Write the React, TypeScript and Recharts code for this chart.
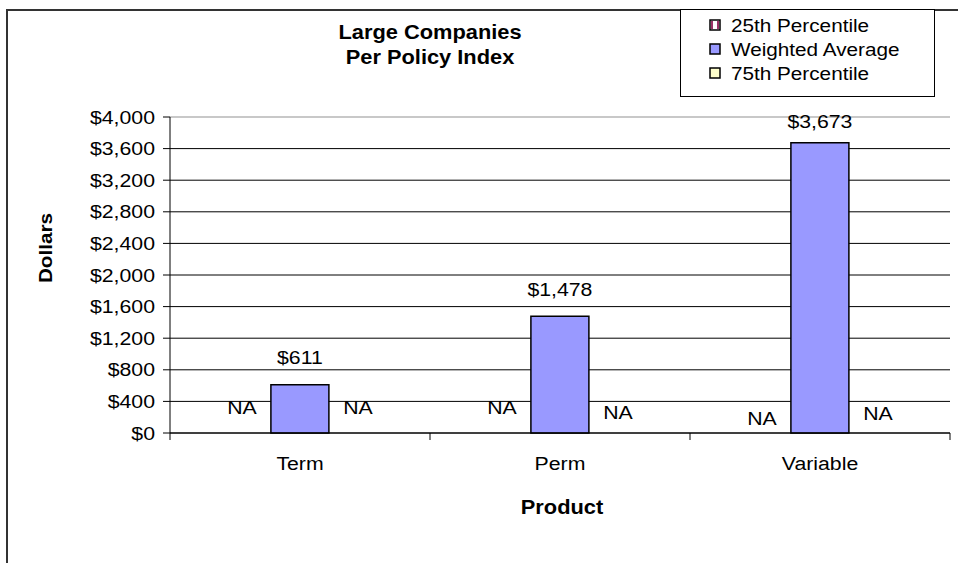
import React from 'react';
import {
  BarChart, Bar, XAxis, YAxis, CartesianGrid, ReferenceLine, LabelList, Legend,
} from 'recharts';

// values (null = "NA" in the source)
const CATEGORIES = ['Term', 'Perm', 'Variable'];
const P25_VALUES: (number | null)[] = [null, null, null];
const WEIGHTED_AVG = [611, 1478, 3673];
const P75_VALUES: (number | null)[] = [null, null, null];
const Y_TICKS = [0, 400, 800, 1200, 1600, 2000, 2400, 2800, 3200, 3600, 4000];

const SERIES = [
  { key: 'p25', name: '25th Percentile', fill: '#FFFFFF' },
  { key: 'avg', name: 'Weighted Average', fill: '#9999FF' },
  { key: 'p75', name: '75th Percentile', fill: '#FFFFCC' },
];

const W = 958;
const H = 563;
const PLOT_LEFT = 170;
const PLOT_RIGHT = 950;
const BAND = (PLOT_RIGHT - PLOT_LEFT) / CATEGORIES.length;
const FONT = '"Liberation Sans", Arial, sans-serif';
const SX = 1.12; // the source text is rendered a bit wide

// how far the NA labels sit above the baseline, per category
const NA_LIFT: Record<string, number[]> = { p25: [26, 26, 15], p75: [26, 21, 20] };

const data = CATEGORIES.map((name, i) => ({
  name,
  p25: P25_VALUES[i] ?? 0,
  avg: WEIGHTED_AVG[i],
  p75: P75_VALUES[i] ?? 0,
}));

const money = (v: number) => '$' + v.toLocaleString('en-US');

const SText = ({ x, y, anchor = 'middle', size = 19, bold = false, rotate = 0, children }: any) => (
  <text
    transform={`translate(${x},${y})${rotate ? ` rotate(${rotate})` : ''} scale(${SX},1)`}
    textAnchor={anchor}
    dominantBaseline="central"
    fontFamily={FONT}
    fontSize={size}
    fontWeight={bold ? 'bold' : 'normal'}
    fill="#000"
  >
    {children}
  </text>
);

const YTick = ({ x, y, payload }: any) => (
  <SText x={x} y={y} anchor="end">{money(payload.value)}</SText>
);

const XTick = ({ x, y, payload, index }: any) => (
  <g>
    <line x1={x - BAND / 2} y1={y} x2={x - BAND / 2} y2={y + 7} stroke="#000" />
    {index === CATEGORIES.length - 1 && (
      <line x1={x + BAND / 2} y1={y} x2={x + BAND / 2} y2={y + 7} stroke="#000" />
    )}
    <SText x={x} y={y + 30}>{payload.value}</SText>
  </g>
);

// the NA bars have no height, so their labels hang off the middle bar's geometry
const avgLabel = (props: any) => {
  const { x, y, width, height, value, index } = props;
  const base = y + height;
  const lift = value > 3500 ? 21 : 27;
  return (
    <g>
      <SText x={x + width / 2} y={y - lift}>{money(value)}</SText>
      {P25_VALUES[index] == null && (
        <SText x={x - width / 2} y={base - NA_LIFT.p25[index]}>NA</SText>
      )}
      {P75_VALUES[index] == null && (
        <SText x={x + width * 1.5} y={base - NA_LIFT.p75[index]}>NA</SText>
      )}
    </g>
  );
};

const Swatch = ({ k, fill }: any) => (
  <g>
    <rect x={0} y={-5} width={10} height={10} fill={fill} stroke="#000" strokeWidth={1.5} />
    {k === 'p25' && (
      <>
        <rect x={1} y={-4} width={2} height={8} fill="#993366" />
        <rect x={7} y={-4} width={2} height={8} fill="#993366" />
      </>
    )}
  </g>
);

const LegendBox = () => (
  <svg width={255} height={88} style={{ display: 'block' }}>
    <rect x={0.5} y={0.5} width={254} height={87} fill="#fff" stroke="#000" />
    {SERIES.map((s, i) => (
      <g key={s.key} transform={`translate(30,${16 + i * 24})`}>
        <Swatch k={s.key} fill={s.fill} />
        <SText x={21} y={0} anchor="start" size={18.5}>{s.name}</SText>
      </g>
    ))}
  </svg>
);

export default function App() {
  return (
    <div style={{ position: 'absolute', left: 0, top: 0, width: W, height: H, overflow: 'hidden', background: '#fff' }}>
      <div style={{ position: 'absolute', left: 6, top: 9, width: 1200, height: 1200, borderLeft: '2px solid #333', borderTop: '2px solid #333' }} />
      <BarChart
        width={W}
        height={H}
        data={data}
        margin={{ top: 117, right: W - PLOT_RIGHT, bottom: 100, left: 80 }}
        barCategoryGap="16.5%"
        barGap={0}
        style={{ position: 'absolute', left: 0, top: 0 }}
      >
        <CartesianGrid vertical={false} stroke="#000" />
        <ReferenceLine y={4000} stroke="#e0e0e0" strokeWidth={1.5} />
        <XAxis
          dataKey="name"
          height={30}
          axisLine={{ stroke: '#000' }}
          tickLine={false}
          tickSize={0}
          tickMargin={0}
          tick={<XTick />}
          interval={0}
        />
        <YAxis
          width={90}
          domain={[0, 4000]}
          ticks={Y_TICKS}
          interval={0}
          axisLine={{ stroke: '#000' }}
          tickLine={{ stroke: '#000' }}
          tickSize={7}
          tickMargin={8}
          tick={<YTick />}
        />
        <Legend
          layout="horizontal"
          verticalAlign="middle"
          align="center"
          content={() => <LegendBox />}
          wrapperStyle={{ position: 'absolute', left: 680, top: 9, width: 255, height: 88 }}
        />
        <Bar dataKey="p25" name={SERIES[0].name} fill={SERIES[0].fill} stroke="#000" strokeWidth={1.5} isAnimationActive={false} />
        <Bar dataKey="avg" name={SERIES[1].name} fill={SERIES[1].fill} stroke="#000" strokeWidth={1.5} isAnimationActive={false}>
          <LabelList dataKey="avg" content={avgLabel} />
        </Bar>
        <Bar dataKey="p75" name={SERIES[2].name} fill={SERIES[2].fill} stroke="#000" strokeWidth={1.5} isAnimationActive={false} />
      </BarChart>
      <svg width={W} height={H} style={{ position: 'absolute', left: 0, top: 0, pointerEvents: 'none' }}>
        <SText x={430} y={32} size={19.5} bold>Large Companies</SText>
        <SText x={430} y={57} size={19.5} bold>Per Policy Index</SText>
        <SText x={45} y={248} size={18.5} bold rotate={-90}>Dollars</SText>
        <SText x={562} y={507} size={19.5} bold>Product</SText>
      </svg>
    </div>
  );
}
